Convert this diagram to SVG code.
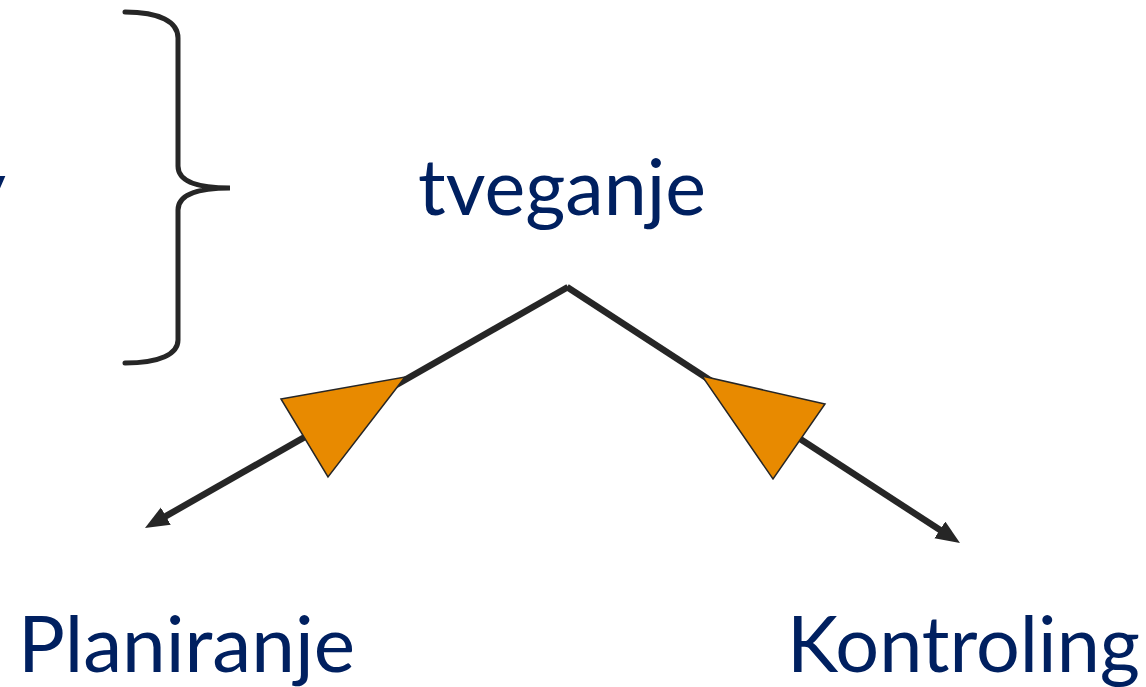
<svg xmlns="http://www.w3.org/2000/svg" width="1146" height="687" viewBox="0 0 1146 687">
  <style>
    .lbl { font-family: Lato, "Liberation Sans", sans-serif; font-size: 78px; fill: #002060; }
    .conn { stroke: #262626; stroke-width: 6.5; fill: none; stroke-linecap: butt; }
    .tri { fill: #E88A00; stroke: #262626; stroke-width: 1.5; stroke-linejoin: miter; }
  </style>
  <defs>
    <marker id="arrow" markerUnits="userSpaceOnUse" markerWidth="26" markerHeight="22" refX="9" refY="10" orient="auto">
      <path d="M0,0 L24,10 L0,20 z" fill="#262626"/>
    </marker>
  </defs>
  <rect width="1146" height="687" fill="#ffffff"/>

  <g id="partial-text">
    <text class="lbl" x="6" y="215" text-anchor="end">y</text>
  </g>

  <g id="brace">
    <path d="M125,12 C160,12 178,22 178,38 L178,166 C178,180 195,188 230,188 C195,188 178,196 178,210 L178,340 C178,354 160,363 125,363" fill="none" stroke="#262626" stroke-width="5" stroke-linecap="round"/>
  </g>

  <g id="node-tveganje">
    <text class="lbl" x="418" y="215" textLength="288" lengthAdjust="spacingAndGlyphs">tveganje</text>
  </g>
  <g id="node-planiranje">
    <text class="lbl" x="18" y="672" textLength="337" lengthAdjust="spacingAndGlyphs">Planiranje</text>
  </g>
  <g id="node-kontroling">
    <text class="lbl" x="787" y="672" textLength="353" lengthAdjust="spacingAndGlyphs">Kontroling</text>
  </g>

  <g id="connectors">
    <line class="conn" x1="568" y1="287" x2="158" y2="520.6" marker-end="url(#arrow)"/>
    <line class="conn" x1="567" y1="287" x2="947.4" y2="534.8" marker-end="url(#arrow)"/>
    <polygon class="tri" points="281,399 405,377 328,477"/>
    <polygon class="tri" points="702,376 825,404 773,479"/>
  </g>
</svg>
